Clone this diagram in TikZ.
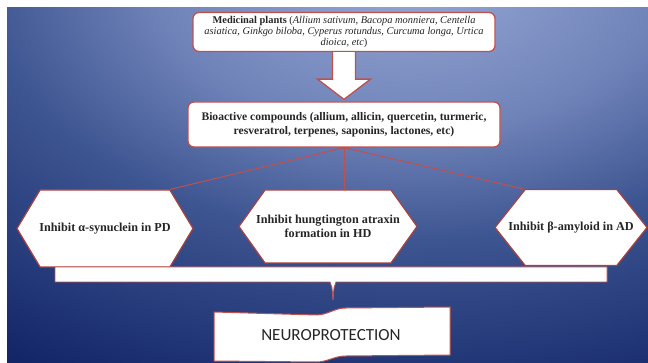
\documentclass[tikz,border=0pt]{standalone}
\usepackage{fontspec}
\setmainfont{Liberation Serif}
\newfontfamily\calibrifont{Carlito}
\usetikzlibrary{shapes.symbols,calc}

\definecolor{boxred}{HTML}{C0504D}
\definecolor{hexred}{HTML}{A8413F}
\definecolor{inktext}{HTML}{262626}
\definecolor{bgA}{HTML}{98A9D5}
\definecolor{bgB}{HTML}{7083B9}
\definecolor{bgC}{HTML}{3D5591}
\definecolor{bgD}{HTML}{132668}
\definecolor{bgE}{HTML}{0A1A56}
\pgfdeclareradialshading{bgglow}{\pgfpoint{0bp}{0bp}}{color(0bp)=(bgA); color(8bp)=(bgB); color(13.5bp)=(bgC); color(23bp)=(bgD); color(50bp)=(bgE)}

\begin{document}
\begin{tikzpicture}[x=1pt, y=-1pt,
    box/.style={draw=boxred, line width=1.3pt, fill=white, rounded corners=6pt, align=center, text=inktext, inner sep=2pt},
    hexa/.style={shape=signal, signal to=west and east, draw=hexred, line width=1.2pt, fill=white, inner ysep=0pt,
        text=inktext, align=center, font=\fontsize{12.2}{13.5}\selectfont\bfseries},
    link/.style={draw=boxred, line width=1pt}]
        \useasboundingbox (0,0) rectangle (648,363);
        \fill[white] (0,0) rectangle (648,363);
        \begin{scope}
                \clip (7,8) rectangle (648,363);
                \shade[shading=bgglow] (410,-30) ellipse [x radius=800pt, y radius=500pt];
        \end{scope}

        \node (plants) at (344,32) [box, minimum width=302pt, minimum height=39pt, font=\fontsize{10.4}{11.2}\selectfont]
            {\textbf{Medicinal plants} (\textit{Allium sativum, Bacopa monniera, Centella}\\
             \textit{asiatica, Ginkgo biloba, Cyperus rotundus, Curcuma longa, Urtica}\\
             \textit{dioica, etc})};
        \node (bio) at (344,124.5) [box, minimum width=312pt, minimum height=45pt, font=\fontsize{11.6}{14}\selectfont\bfseries]
            {Bioactive compounds (allium, allicin, quercetin, turmeric,\\ resveratrol, terpenes, saponins, lactones, etc)};

        \draw[draw=boxred, line width=1.3pt, fill=white] ($(plants.south)+(-11.5,0)$) -- ($(plants.south)+(-11.5,27)$)
            -- ($(plants.south)+(-26.5,27)$) -- ($(bio.north)+(0,-2)$) -- ($(plants.south)+(26.5,27)$)
            -- ($(plants.south)+(11.5,27)$) -- ($(plants.south)+(11.5,0)$);

        \node (hexpd) at (105,228.5) [hexa, minimum width=176pt, minimum height=77pt, signal pointer angle=118, inner xsep=-6pt] {Inhibit α-synuclein in PD};
        \node (hexhd) at (328,226.5) [hexa, minimum width=178pt, minimum height=73pt, signal pointer angle=109, inner xsep=-14pt] {Inhibit hungtington atraxin\\ formation in HD};
        \node (hexad) at (571,227.5) [hexa, minimum width=152pt, minimum height=76pt, signal pointer angle=103, inner xsep=-18pt] {Inhibit β-amyloid in AD};

        \draw[link] (bio.south) -- (hexpd.north east);
        \draw[link] (bio.south) -- (bio.south |- hexhd.north);
        \draw[link] (bio.south) -- (hexad.north west);

        \coordinate (notch) at (333,300);
        \draw[draw=boxred, line width=0.8pt, fill=white] (55,267) -- (607,267) -- (607,282) -- (336,282)
            .. controls (334,286) .. (notch) .. controls (332,286) .. (330,282) -- (55,282) -- cycle;

        \draw[draw=boxred, line width=1pt, fill=white] (214,312) -- (316,315) .. controls (328,315) and (334,308) .. (346,308)
            -- (450,307) -- (450,355) -- (346,356) .. controls (334,356) and (328,362) .. (316,362) -- (214,361) -- cycle;
        \node (neuro) at (331,335) [text=inktext, font=\calibrifont\fontsize{17}{19}\selectfont] {NEUROPROTECTION};
\end{tikzpicture}
\end{document}
